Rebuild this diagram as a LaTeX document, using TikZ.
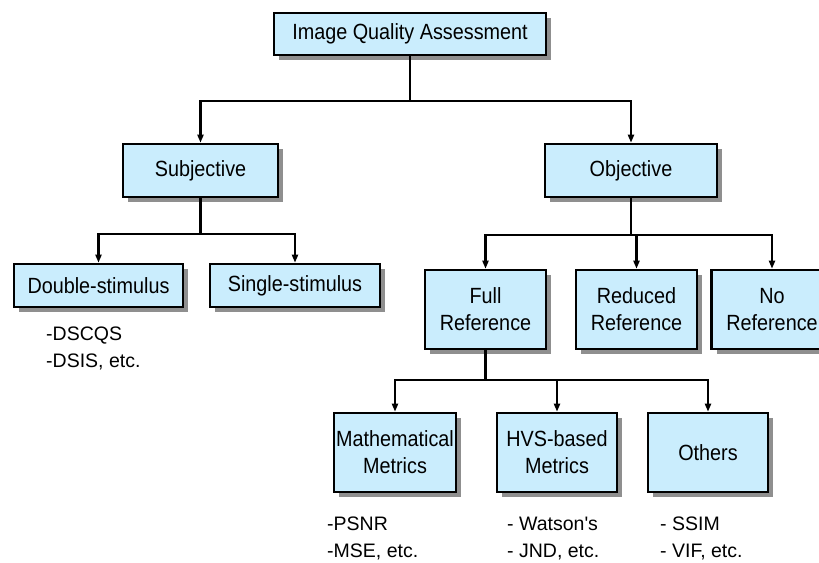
\documentclass[tikz,border=0pt]{standalone}
\usepackage{fontspec}
\setmainfont{Liberation Sans}[FakeStretch=0.9]
\newfontfamily\plainf{Liberation Sans}
\usetikzlibrary{shadows,arrows.meta}
\definecolor{boxblue}{RGB}{202,237,253}
\tikzset{
  box/.style={draw=black, line width=2.6bp, fill=boxblue, align=center,
    inner sep=0pt, font=\fontsize{22bp}{27bp}\selectfont,
    drop shadow={shadow xshift=5bp, shadow yshift=-5bp, fill=black!55, opacity=0.8}},
  conn/.style={line width=2.8bp, black},
  arr/.style={conn, -{Triangle[length=8bp,width=6bp]}},
  bullet/.style={anchor=base west, inner sep=0pt, font=\plainf\fontsize{19.5bp}{24bp}\selectfont}
}
\begin{document}
\begin{tikzpicture}[x=1bp, y=-1bp]
\clip (0,0) rectangle (819,563);
\fill[white] (0,0) rectangle (819,563);
% boxes
\node[box, minimum width=272bp, minimum height=42bp] (root) at (410,34) {Image Quality Assessment};
\node[box, minimum width=155bp, minimum height=53bp] (subj) at (200.5,170.5) {Subjective};
\node[box, minimum width=172bp, minimum height=53bp] (obj) at (631,170.5) {Objective};
\node[box, minimum width=169bp, minimum height=43bp] (dbl) at (98.5,285.5) {Double-stimulus};
\node[box, minimum width=170bp, minimum height=43bp] (sgl) at (295,285.5) {Single-stimulus};
\node[box, minimum width=121bp, minimum height=79bp] (full) at (485.5,309.5) {Full\\Reference};
\node[box, minimum width=121bp, minimum height=79bp] (red) at (636.5,309.5) {Reduced\\Reference};
\node[box, minimum width=121bp, minimum height=79bp] (nor) at (772,309.5) {No\\Reference};
\node[box, minimum width=122bp, minimum height=79bp] (math) at (395,452.5) {Mathematical\\Metrics};
\node[box, minimum width=120bp, minimum height=79bp] (hvs) at (557,452.5) {HVS-based\\Metrics};
\node[box, minimum width=120bp, minimum height=79bp] (oth) at (708,452.5) {Others};
% junctions
\coordinate (j1) at (410,101);
\coordinate (j2) at (200.5,234);
\coordinate (j3) at (631,235);
\coordinate (j4) at (485.5,380);
% connectors
\draw[conn] (root.south) -- (j1);
\draw[arr] (j1) -| (subj.north);
\draw[arr] (j1) -| (obj.north);
\draw[conn] (subj.south) -- (j2);
\draw[arr] (j2) -| (dbl.north);
\draw[arr] (j2) -| (sgl.north);
\draw[conn] (obj.south) -- (j3);
\draw[arr] (j3) -| (full.north);
\draw[arr] (j3) -| (red.north);
\draw[arr] (j3) -| (nor.north);
\draw[conn] (full.south) -- (j4);
\draw[arr] (j4) -| (math.north);
\draw[arr] (j4) -| (hvs.north);
\draw[arr] (j4) -| (oth.north);
% bullet texts
\node[bullet] (b1) at (46,340) {-DSCQS};
\node[bullet] (b2) at (46,367) {-DSIS, etc.};
\node[bullet] (b3) at (327,530) {-PSNR};
\node[bullet] (b4) at (327,557) {-MSE, etc.};
\node[bullet] (b5) at (507,530) {- Watson's};
\node[bullet] (b6) at (507,557) {- JND, etc.};
\node[bullet] (b7) at (660,530) {- SSIM};
\node[bullet] (b8) at (660,557) {- VIF, etc.};
\end{tikzpicture}
\end{document}
